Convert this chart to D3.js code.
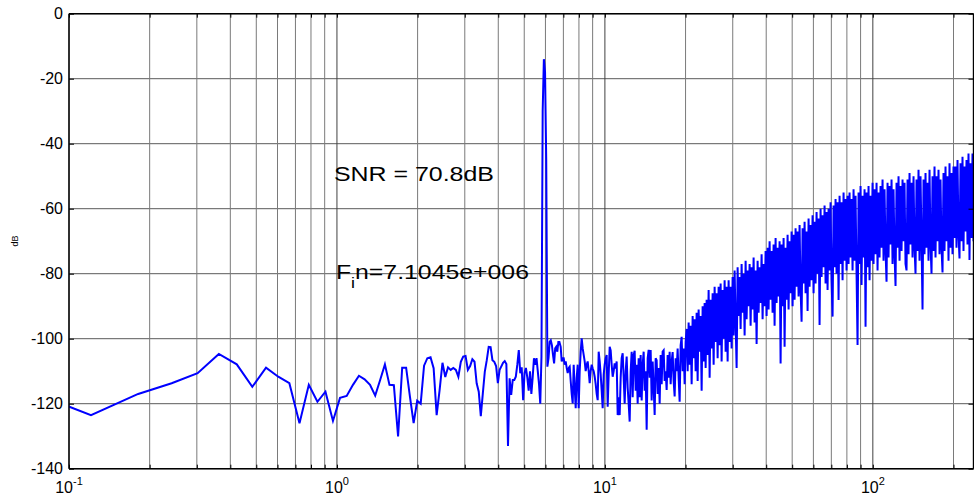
<!DOCTYPE html>
<html>
<head>
<meta charset="utf-8">
<script src="https://cdn.jsdelivr.net/npm/d3@7/dist/d3.min.js"></script>
<style>
  html, body { margin: 0; padding: 0; background: #fff; }
  svg { display: block; }
  text { font-family: "Liberation Sans", Arial, Helvetica, sans-serif; }
</style>
</head>
<body>
<svg id="chart" width="974" height="499"></svg>
<script>
// ---------------- DATA ----------------
const binHz = 0.0604;                      // FFT bin spacing (axis units)
const xDomain = [0.1, 237.5];
const yDomain = [-140, 0];
const yTicks = [0, -20, -40, -60, -80, -100, -120, -140];
const xDecades = [0.1, 1, 10, 100];
const xDecadeExp = ["-1", "0", "1", "2"];
const xMinor = [0.2,0.3,0.4,0.5,0.6,0.7,0.8,0.9, 2,3,4,5,6,7,8,9, 20,30,40,50,60,70,80,90, 200];
const yLabel = "dB";
const snrText = "SNR = 70.8dB";
const finMain = "F", finSub = "i", finRest = "n=7.1045e+006";

// spectrum, bins 1..112 (one value per FFT bin)
const lowDb = [
 -114,-123.5,-117.0,-113.7,-110.6,-104.7,-107.9,-114.8,-108.9,-111.7,
 -113.7,-126.0,-114.2,-119.4,-116.3,-125.3,-118.2,-117.6,-114.2,-111.4,
 -112.5,-114.2,-117.5,-112.7,-107.9,-114.2,-114.3,-130.1,-108.9,-108.9,
 -117.8,-126.0,-119.1,-120.0,-108.3,-106.0,-105.7,-109.1,-123.5,-115.8,
 -107.4,-111.8,-108.8,-109.6,-109.0,-109.6,-111.7,-107.1,-105.5,-105.3,
 -109.6,-108.4,-106.3,-107.1,-113.7,-116.3,-123.8,-116.8,-110.1,-106.6,
 -102.5,-102.6,-106.6,-107.1,-108.4,-113.7,-109.6,-108.5,-107.4,-106.9,
 -107.8,-133.0,-112.2,-117.3,-112.7,-112.7,-111.7,-108,-103.5,-110.6,
 -108.8,-118.9,-110.6,-109,-112,-116,-110,-117,-112,-106,
 -108,-106,-110,-114,-120,-105.5,-30,-14,-18,-45,
 -108.6,-106,-101,-100.5,-102,-105,-107.6,-103,-102.5,-104,
 -101,-101
];

// dense part of the spectrum, log-evenly spaced from denseStart to denseEnd
const denseStart = 6.84, denseEnd = 237.5;
const denseDb = [
 -102.5,-107,-106,-106,-108,-107,-109,-110.6,-109,-108.6,
 -113,-117,-119.9,-108,-115,-121.4,-112,-108,-121.4,-110,
 -104,-99.9,-103,-105,-107,-110,-108,-107,-110,-113.7,
 -110,-108,-109.2,-110,-111.7,-114,-117,-118.9,-104,-107,
 -111,-116,-121.4,-111,-108,-106,-105,-120.9,-111,-102.5,
 -103.6,-108,-111.7,-110,-107.6,-109.2,-107,-123.5,-118,-123.5,
 -112,-106,-104.5,-112,-120,-110,-105.5,-115,-120,-125.5,
 -110,-104,-118,-105,-103.7,-116,-108,-120,-106,-118,
 -105,-119,-108,-104,-116,-110,-128,-106,-103.4,-112,
 -103.5,-119,-107,-115,-123.5,-106,-106.6,-117,-109,-120,
 -105,-114,-104,-103.6,-113,-110,-115.8,-105,-112,-104,
 -114,-107,-104.1,-113,-117.8,-106,-110,-103,-112,-119.4,
 -102,-99.4,-110,-103,-114,-101,
 -97,-110,-95,-108,-96,-114,-93,-106,-94,-110,
 -92,-113,-91,-104,-93,-116,-90,-107,-89,-109,
 -88,-105,-85,-112,-88,-103,-86,-108,-84,-101,
 -86,-106,-84,-102,-83,-107,-85,-100,-82,-104,
 -84,-107,-82,-101,-84,-103,-81,-99,
 -79,-95,-109,-78,-93,-81,-97,-77,-92,-80,
 -99,-76,-94,-79,-90,-77,-96,-78,-91,-75,
 -95,-79,-101.6,-76,-92,-78,-89,-74,-94,-77,
 -90,-73,-93,
 -72,-91,-70,-88,-73,-92,-71,-96,-69,-89,
 -72,-87,-70,-107.6,-71,-90,-69,-102.5,-72,-88,
 -68,-91,-70,-86,-67,-90,
 -68,-88,-66,-84,-67,-87,-65,-85,-94.8,-66,
 -83,-64,-86,-67,-91.5,-63,-84,-65,-82,-62,
 -86,-64,
 -83,-61,-80,-63,-95.8,-60,-81,-62,-78,-59,
 -83,-61,-85,-60,-79,-58,-82,-93.2,
 -59,-78,-57,-80,-58,-88.1,-56,-77,-58,-82,
 -55,-76,-57,-79,-56,
 -77,-55,-75,-57,-79,-54,-76,-56,-80,-101.9,
 -55,-77,-53,-83.5,-56,-75,-54,-96.3,-55,-78,
 -53,-82,-56,-76,-52,
 -77,-54,-74,-52,-79,-55,-75,-53,-72,-51,
 -76,-54,-73,-82.5,-52,-75,-53,-71,-51,-77,
 -54,-74,-83.8,-52,-72,-50,-76,-53,-73,-51,
 -70,-52,-77,-79,
 -51,-74,-49,-71,-52,-75,-50,-72,-80,-51,
 -73,-48,-76,-50,-70,-91,-51,-74,-49,-72,
 -52,-76,-48,-71,-80,-50,-73,-47,-75,-50,
 -70,-48,-74,-51,-72,-79.6,-49,-73,-47,-70,
 -50,-76,-46,-72,-49,-74,-47,-69,
 -47,-72,-45,-68,-75.3,-46,-70,-44,-73,-47,
 -67,-45,-71,-43,-75.8,-46,-69,-43,-70
];

// ---------------- CHART ----------------
const m = { left: 69, right: 973.5, top: 13.7, bottom: 468.7 };
const svg = d3.select("#chart");

const x = d3.scaleLog().domain(xDomain).range([m.left, m.right]);
const y = d3.scaleLinear().domain(yDomain).range([m.bottom, m.top]);

// build points
const pts = lowDb.map((v, i) => ({ f: (i + 1) * binHz, db: v }));
const l0 = Math.log10(denseStart), l1 = Math.log10(denseEnd);
denseDb.forEach((v, i) => {
  pts.push({ f: Math.pow(10, l0 + (l1 - l0) * i / (denseDb.length - 1)), db: v });
});

// grid
const grid = svg.append("g");
grid.selectAll("line.gy").data(yTicks).join("line")
  .attr("x1", m.left).attr("x2", m.right)
  .attr("y1", d => y(d)).attr("y2", d => y(d))
  .attr("stroke", "#5a5a5a").attr("stroke-width", 1);
grid.selectAll("line.gxm").data(xMinor).join("line")
  .attr("x1", d => x(d)).attr("x2", d => x(d))
  .attr("y1", m.top).attr("y2", m.bottom)
  .attr("stroke", "#7a7a7a").attr("stroke-width", 1);
grid.selectAll("line.gxM").data(xDecades).join("line")
  .attr("x1", d => x(d)).attr("x2", d => x(d))
  .attr("y1", m.top).attr("y2", m.bottom)
  .attr("stroke", "#404040").attr("stroke-width", 1);

// clip
svg.append("defs").append("clipPath").attr("id", "clip")
  .append("rect").attr("x", m.left).attr("y", m.top)
  .attr("width", m.right - m.left).attr("height", m.bottom - m.top);

// spectrum line
const line = d3.line().x(d => x(d.f)).y(d => y(d.db));
svg.append("path").datum(pts)
  .attr("clip-path", "url(#clip)")
  .attr("fill", "none").attr("stroke", "#0000ff")
  .attr("stroke-width", 2).attr("stroke-linejoin", "miter")
  .attr("d", line);

// axes frame
const frame = svg.append("g").attr("stroke", "#000").attr("fill", "none");
frame.append("line").attr("x1", m.left).attr("x2", m.right).attr("y1", m.bottom).attr("y2", m.bottom).attr("stroke-width", 1.4);
frame.append("line").attr("x1", m.left).attr("x2", m.right).attr("y1", m.top).attr("y2", m.top).attr("stroke-width", 1.4);
frame.append("line").attr("x1", m.left).attr("x2", m.left).attr("y1", m.top).attr("y2", m.bottom).attr("stroke-width", 1.4);
frame.append("line").attr("x1", m.right).attr("x2", m.right).attr("y1", m.top).attr("y2", m.bottom).attr("stroke-width", 1.4);

// left y axis via d3 axis (ticks inward)
const yAxis = d3.axisLeft(y).tickValues(yTicks).tickSize(-5).tickPadding(10)
  .tickFormat(d => d3.format("d")(d).replace("−", "-"));
const gy = svg.append("g").attr("transform", `translate(${m.left},0)`).call(yAxis);
gy.select(".domain").remove();
gy.selectAll(".tick line").attr("stroke", "#000");
gy.selectAll(".tick text").attr("font-size", 16).attr("fill", "#000")
  .attr("font-family", "'Liberation Sans', Arial, sans-serif").attr("x", -6);

// right y ticks
const yAxisR = d3.axisRight(y).tickValues(yTicks).tickSize(-5).tickFormat("");
const gyr = svg.append("g").attr("transform", `translate(${m.right},0)`).call(yAxisR);
gyr.select(".domain").remove();
gyr.selectAll(".tick line").attr("stroke", "#000");

// x ticks bottom/top (inward)
const allX = xDecades.concat(xMinor);
const gxb = svg.append("g").attr("transform", `translate(0,${m.bottom})`)
  .call(d3.axisBottom(x).tickValues(allX).tickSize(-4).tickFormat(""));
gxb.select(".domain").remove();
gxb.selectAll(".tick line").attr("stroke", "#000");
const gxt = svg.append("g").attr("transform", `translate(0,${m.top})`)
  .call(d3.axisTop(x).tickValues(allX).tickSize(-4).tickFormat(""));
gxt.select(".domain").remove();
gxt.selectAll(".tick line").attr("stroke", "#000");

// x tick labels 10^n
const xl = svg.append("g");
xDecades.forEach((d, i) => {
  const t = xl.append("text").attr("x", x(d)).attr("y", 493)
    .attr("text-anchor", "middle").attr("font-size", 16).attr("fill", "#000");
  t.append("tspan").text("10");
  t.append("tspan").attr("font-size", 11).attr("dy", -8).text(xDecadeExp[i]);
});

// y label
svg.append("text").attr("transform", "translate(18,241) rotate(-90)")
  .attr("text-anchor", "middle").attr("font-size", 9).attr("fill", "#000").text(yLabel);

// annotations
svg.append("text").attr("x", x(1) - 3).attr("y", 181)
  .attr("font-size", 21).attr("fill", "#000")
  .attr("textLength", 160).attr("lengthAdjust", "spacingAndGlyphs")
  .text(snrText);

const fin = svg.append("text").attr("x", x(1) - 1).attr("y", 279)
  .attr("font-size", 21).attr("fill", "#000")
  .attr("textLength", 193).attr("lengthAdjust", "spacingAndGlyphs");
fin.append("tspan").text(finMain);
fin.append("tspan").attr("font-size", 15).attr("dy", 9).text(finSub);
fin.append("tspan").attr("dy", -9).text(finRest);
</script>
</body>
</html>
